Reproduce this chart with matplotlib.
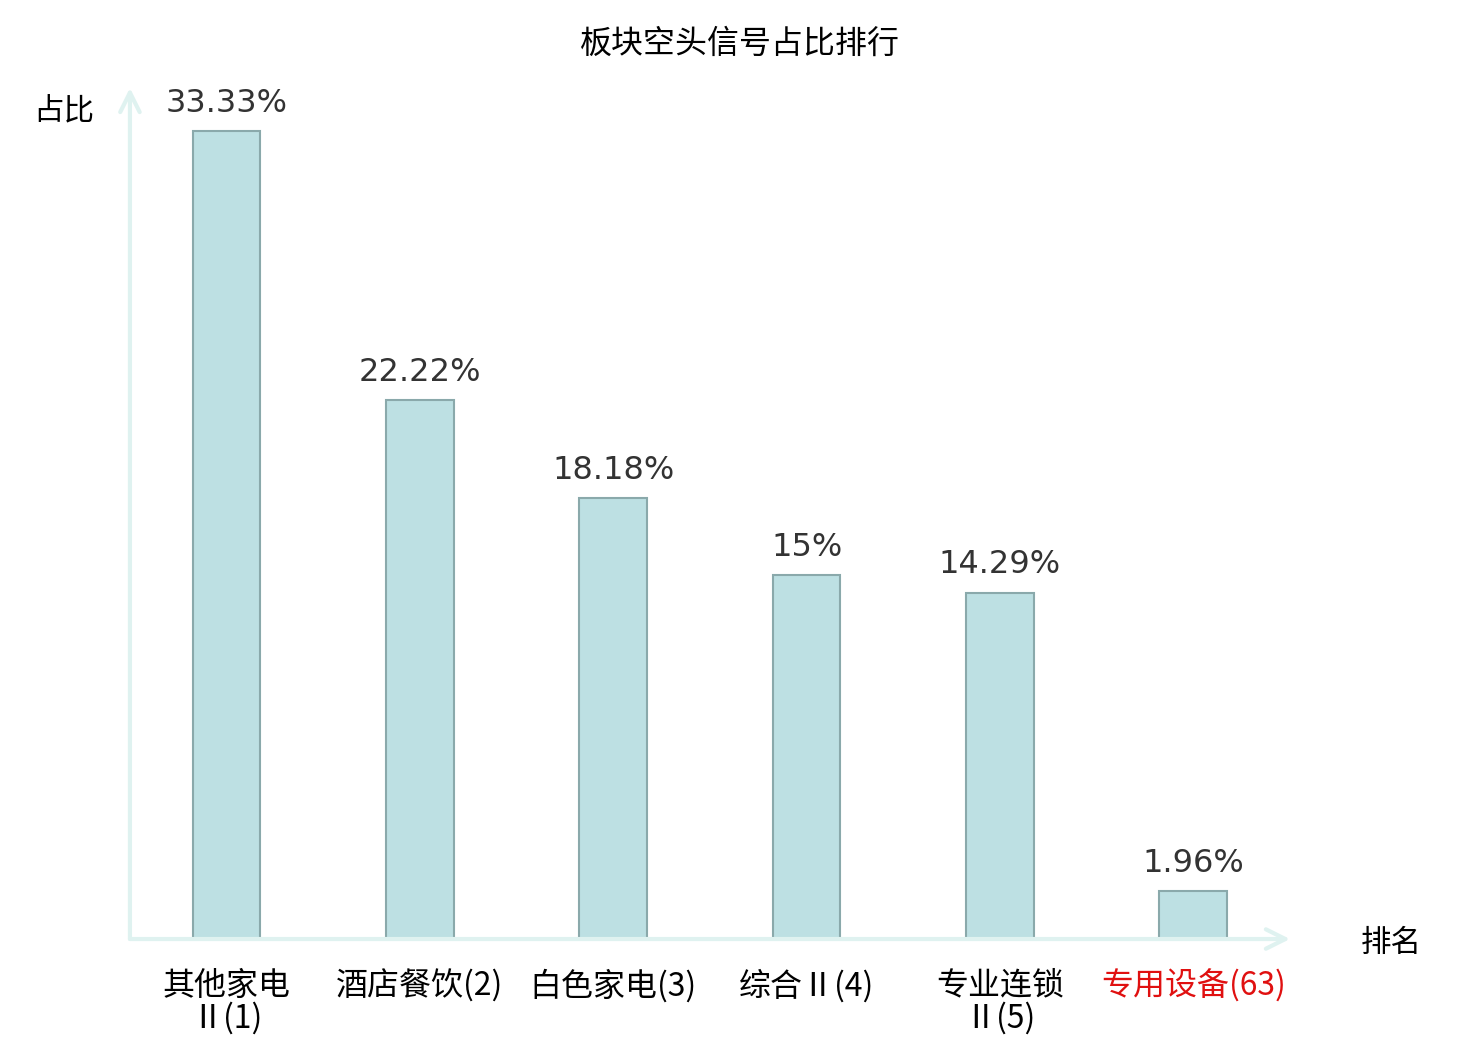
import matplotlib
matplotlib.use("Agg")
import matplotlib.pyplot as plt

plt.rcParams['font.family'] = ['Noto Sans CJK SC', 'DejaVu Sans']

categories = ["其他家电\nⅡ(1)", "酒店餐饮(2)", "白色家电(3)", "综合Ⅱ(4)", "专业连锁\nⅡ(5)", "专用设备(63)"]
values = [33.33, 22.22, 18.18, 15, 14.29, 1.96]
value_labels = ["33.33%", "22.22%", "18.18%", "15%", "14.29%", "1.96%"]

fig = plt.figure(figsize=(14.8, 10.4), dpi=100)
ax = fig.add_axes([0.0878, 0.0971, 0.7838, 0.8183])

x = list(range(len(categories)))
ax.bar(x, values, width=0.35, color="#bde0e3", edgecolor="#8aa9ab", linewidth=1.5, zorder=3)

for xi, v, lab in zip(x, values, value_labels):
    ax.text(xi, v + 0.5, lab, ha="center", va="bottom", fontsize=23,
            color="#333333", family="DejaVu Sans")

ax.set_xlim(-0.5, 5.5)
ax.set_ylim(0, 35.1)
for s in ax.spines.values():
    s.set_visible(False)
ax.set_yticks([])
ax.set_xticks(x)
ax.set_xticklabels(categories, fontsize=23, linespacing=1.0)
ax.tick_params(axis="x", length=0, pad=22)
ax.get_xticklabels()[-1].set_color("#e01010")

# axis arrows
axis_col = "#dff2f0"
arrow = dict(arrowstyle="->,head_length=1.4,head_width=0.7", color=axis_col, lw=3,
             shrinkA=0, shrinkB=0)
ax.annotate("", xy=(1.0, 0), xytext=(0, 0), xycoords="axes fraction", arrowprops=arrow)
ax.annotate("", xy=(0, 1.0), xytext=(0, 0), xycoords="axes fraction", arrowprops=arrow)

fig.text(0.043, 0.893, "占比", fontsize=22, ha="center", va="center")
fig.text(0.94, 0.093, "排名", fontsize=22, ha="center", va="center")
fig.text(0.5, 0.958, "板块空头信号占比排行", fontsize=23, ha="center", va="center")

fig.savefig("out.png", dpi=100)
